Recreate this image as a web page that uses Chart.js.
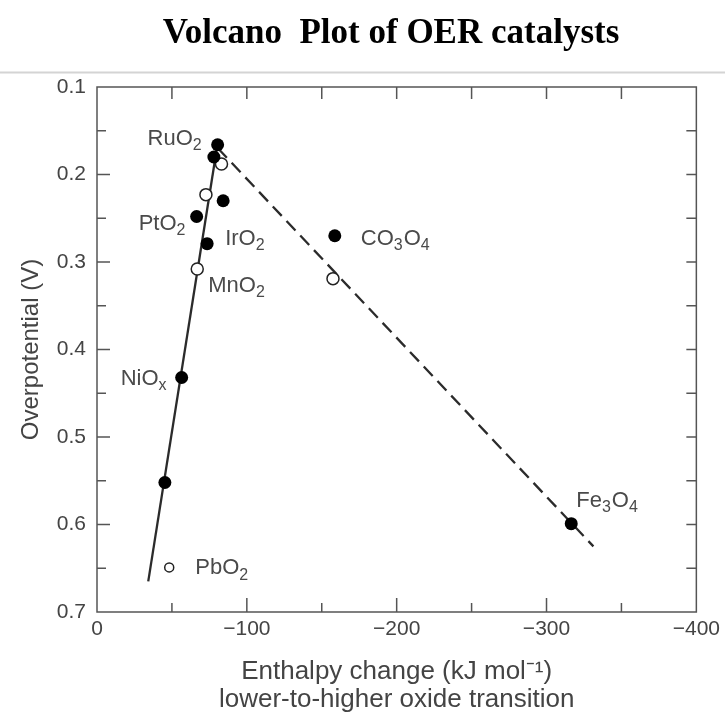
<!DOCTYPE html>
<html>
<head>
<meta charset="utf-8">
<script src="https://cdn.jsdelivr.net/npm/chart.js@4.4.1/dist/chart.umd.min.js"></script>
<style>
    html, body { margin: 0; padding: 0; background: #fff; }
</style>
</head>
<body>
<canvas id="volcano" width="725" height="715"></canvas>
<script>
// enthalpy change (kJ/mol) and overpotential (V)
const filledX = [-80.5, -78, -84.2, -66.5, -73.5, -158.7, -56.5, -45.3, -316.5];
const filledY = [0.166, 0.180, 0.230, 0.248, 0.279, 0.270, 0.432, 0.552, 0.599];
const openX = [-83.1, -72.7, -66.9, -157.5, -48.2];
const openY = [0.188, 0.223, 0.308, 0.319, 0.649];

// fitted lines (end points)
const solidX = [-34.2, -79.8];
const solidY = [0.665, 0.172];
const dashX = [-80.7, -331.3];
const dashY = [0.170, 0.625];

const xTickValues = [0, -100, -200, -300, -400];
const yTickValues = [0.1, 0.2, 0.3, 0.4, 0.5, 0.6, 0.7];

// catalyst names: [text, isSubscript] pieces
const catalystNames = [
    [['RuO', false], ['2', true]],
    [['PtO', false], ['2', true]],
    [['IrO', false], ['2', true]],
    [['MnO', false], ['2', true]],
    [['CO', false], ['3', true], ['O', false], ['4', true]],
    [['NiO', false], ['x', true]],
    [['Fe', false], ['3', true], ['O', false], ['4', true]],
    [['PbO', false], ['2', true]]
];
// which point each name belongs to
const namePoints = [['filled', 0], ['filled', 3], ['filled', 4], ['open', 2], ['filled', 5], ['filled', 6], ['filled', 8], ['open', 4]];
// text placement relative to the point (px)
const nameOffsets = [[-70, -6], [-58, 7], [18, -5], [11, 17], [26, 3], [-61, 1], [5, -23], [26, 1]];

const toXY = (xs, ys) => xs.map((x, i) => ({ x: x, y: ys[i] }));
const fontSans = '"Liberation Sans", Arial, sans-serif';

const decorPlugin = {
    id: 'decor',
    afterDraw(chart) {
        const ctx = chart.ctx;
        const area = chart.chartArea;
        const xs = chart.scales.x;
        const ys = chart.scales.y;
        ctx.save();

        // heading and rule
        ctx.fillStyle = '#000';
        ctx.font = 'bold 35px "Liberation Serif", "Times New Roman", serif';
        ctx.textAlign = 'center';
        ctx.textBaseline = 'alphabetic';
        ctx.fillText('Volcano  Plot of OER catalysts', 391, 43);
        ctx.strokeStyle = '#d4d4d4';
        ctx.lineWidth = 2;
        ctx.beginPath();
        ctx.moveTo(0, 72.5);
        ctx.lineTo(725, 72.5);
        ctx.stroke();

        // frame
        ctx.strokeStyle = '#555';
        ctx.lineWidth = 1.5;
        ctx.strokeRect(area.left, area.top, area.right - area.left, area.bottom - area.top);

        // inward ticks, majors from the scales, minors halfway
        function withMinors(values) {
            const out = [];
            for (let i = 0; i < values.length; i++) {
                out.push([values[i], true]);
                if (i < values.length - 1) out.push([(values[i] + values[i + 1]) / 2, false]);
            }
            return out;
        }
        const xt = withMinors(xs.ticks.map(t => t.value));
        const yt = withMinors(ys.ticks.map(t => t.value));
        ctx.beginPath();
        xt.forEach(([v, major]) => {
            const px = xs.getPixelForValue(v);
            if (px <= area.left + 1 || px >= area.right - 1) return;
            ctx.moveTo(px, area.bottom);
            ctx.lineTo(px, area.bottom - (major ? 14 : 9));
            ctx.moveTo(px, area.top);
            ctx.lineTo(px, area.top + 12);
        });
        yt.forEach(([v, major]) => {
            const py = ys.getPixelForValue(v);
            if (py <= area.top + 1 || py >= area.bottom - 1) return;
            ctx.moveTo(area.left, py);
            ctx.lineTo(area.left + (major ? 13 : 9), py);
            ctx.moveTo(area.right, py);
            ctx.lineTo(area.right - 10, py);
        });
        ctx.stroke();

        // catalyst names with subscripts
        ctx.fillStyle = '#4a4a4a';
        ctx.textAlign = 'left';
        ctx.textBaseline = 'middle';
        catalystNames.forEach((parts, i) => {
            const [kind, idx] = namePoints[i];
            const px = xs.getPixelForValue(kind === 'filled' ? filledX[idx] : openX[idx]);
            const py = ys.getPixelForValue(kind === 'filled' ? filledY[idx] : openY[idx]);
            let cx = px + nameOffsets[i][0];
            const cy = py + nameOffsets[i][1];
            parts.forEach(([txt, sub]) => {
                ctx.font = (sub ? '16px ' : '22px ') + fontSans;
                ctx.fillText(txt, cx, sub ? cy + 7 : cy);
                cx += ctx.measureText(txt).width + (sub ? 1 : 0);
            });
        });
        ctx.restore();
    }
};

new Chart(document.getElementById('volcano'), {
    type: 'scatter',
    data: {
        datasets: [
            {
                data: toXY(filledX, filledY),
                backgroundColor: '#000',
                borderWidth: 0,
                pointRadius: 6.5
            },
            {
                data: toXY(openX, openY),
                backgroundColor: '#fff',
                borderColor: '#222',
                borderWidth: 1.5,
                pointRadius: [6, 6, 6, 6, 4.5]
            },
            {
                data: toXY(solidX, solidY),
                showLine: true,
                borderColor: '#2b2b2b',
                borderWidth: 2.3,
                pointRadius: 0
            },
            {
                data: toXY(dashX, dashY),
                showLine: true,
                borderColor: '#2b2b2b',
                borderWidth: 2.3,
                borderDash: [13, 7],
                pointRadius: 0
            }
        ]
    },
    options: {
        responsive: false,
        animation: false,
        layout: { padding: { left: 0, top: 87, right: 28, bottom: 0 } },
        plugins: {
            legend: { display: false },
            tooltip: { enabled: false }
        },
        scales: {
            x: {
                type: 'linear',
                min: -400,
                max: 0,
                reverse: true,
                grid: { display: false, drawTicks: false },
                border: { display: false },
                afterBuildTicks: scale => { scale.ticks = xTickValues.map(v => ({ value: v })); },
                afterFit: scale => { scale.height = 103; },
                ticks: {
                    autoSkip: false,
                    maxRotation: 0,
                    padding: 5,
                    color: '#444',
                    font: { family: fontSans, size: 21 },
                    callback: v => v === 0 ? '0' : '\u2212' + Math.abs(v)
                },
                title: {
                    display: true,
                    text: ['Enthalpy change (kJ mol\u207B\u00B9)', 'lower-to-higher oxide transition'],
                    color: '#444',
                    font: { family: fontSans, size: 26, lineHeight: 1.08 },
                    padding: { top: 0, bottom: 1 }
                }
            },
            y: {
                type: 'linear',
                min: 0.1,
                max: 0.7,
                reverse: true,
                grid: { display: false, drawTicks: false },
                border: { display: false },
                afterBuildTicks: scale => { scale.ticks = yTickValues.map(v => ({ value: v })); },
                afterFit: scale => { scale.width = 97; },
                ticks: {
                    padding: 11,
                    color: '#444',
                    font: { family: fontSans, size: 21 },
                    callback: v => v.toFixed(1)
                },
                title: {
                    display: true,
                    text: 'Overpotential (V)',
                    color: '#444',
                    font: { family: fontSans, size: 24, lineHeight: 1.2 },
                    padding: { top: 17, bottom: 0 }
                }
            }
        }
    },
    plugins: [decorPlugin]
});
</script>
</body>
</html>
